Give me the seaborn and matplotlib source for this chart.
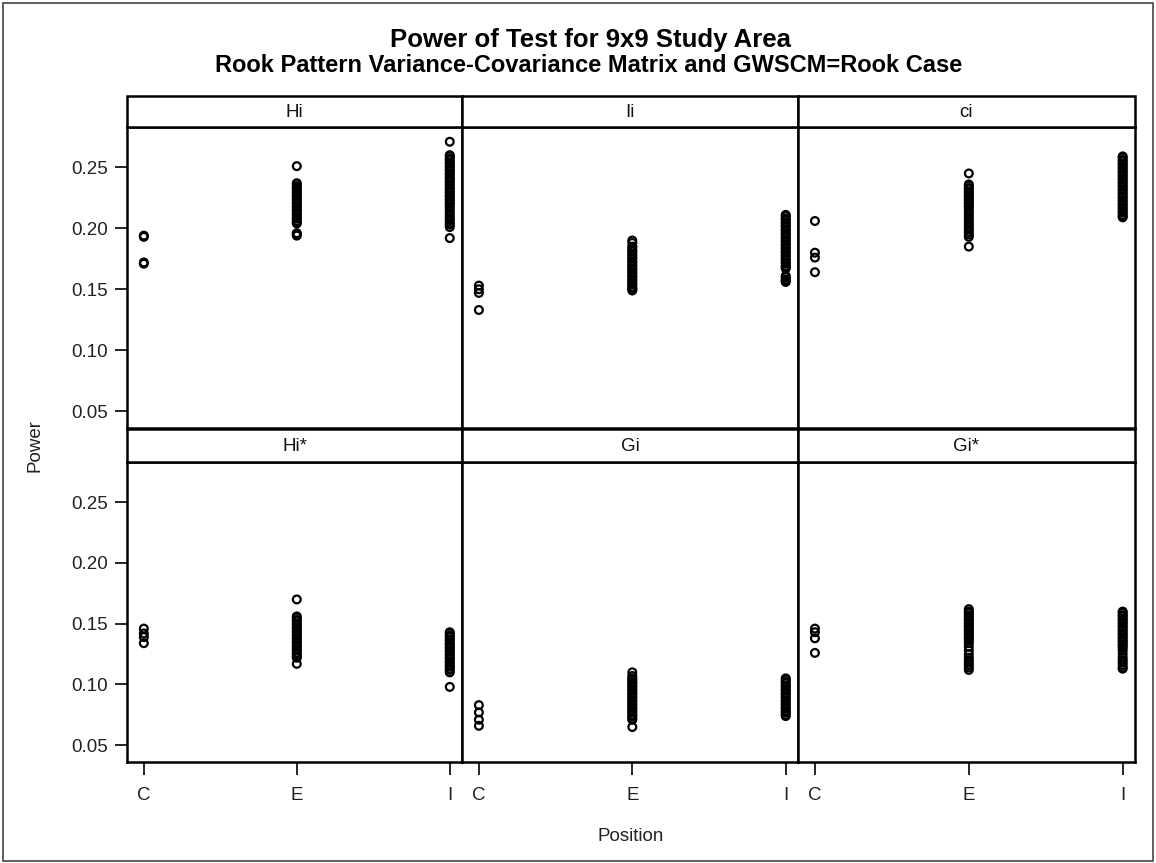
import numpy as np
import pandas as pd
import matplotlib
matplotlib.use("Agg")
import matplotlib.pyplot as plt
from matplotlib.patches import Rectangle
import seaborn as sns

# ---------------- data ----------------
statistics = ["Hi", "Ii", "ci", "Hi*", "Gi", "Gi*"]
positions = ["C", "E", "I"]

hi_C = [0.194, 0.193, 0.172, 0.171]
hi_E = [0.251, 0.237, 0.236, 0.234, 0.233, 0.232, 0.230, 0.229, 0.227, 0.226,
        0.224, 0.223, 0.221, 0.220, 0.218, 0.217, 0.215, 0.214, 0.212, 0.211,
        0.209, 0.208, 0.206, 0.205, 0.204, 0.196, 0.195, 0.194]
hi_I = [0.271, 0.260, 0.259, 0.257, 0.256, 0.254, 0.253, 0.251, 0.250, 0.248,
        0.247, 0.245, 0.244, 0.242, 0.241, 0.239, 0.238, 0.236, 0.235, 0.233,
        0.232, 0.230, 0.229, 0.227, 0.226, 0.224, 0.223, 0.221, 0.220, 0.218,
        0.216, 0.214, 0.212, 0.210, 0.208, 0.206, 0.204, 0.203, 0.201, 0.192]

ii_C = [0.153, 0.150, 0.147, 0.133]
ii_E = [0.190, 0.188, 0.185, 0.184, 0.182, 0.181, 0.179, 0.178, 0.176, 0.175,
        0.173, 0.172, 0.170, 0.169, 0.167, 0.166, 0.164, 0.163, 0.161, 0.160,
        0.158, 0.157, 0.155, 0.154, 0.152, 0.151, 0.150, 0.149]
ii_I = [0.211, 0.210, 0.208, 0.207, 0.205, 0.204, 0.202, 0.201, 0.199, 0.198,
        0.196, 0.195, 0.193, 0.192, 0.190, 0.189, 0.187, 0.186, 0.184, 0.183,
        0.181, 0.180, 0.178, 0.177, 0.175, 0.174, 0.172, 0.171, 0.169, 0.168,
        0.167, 0.161, 0.160, 0.158, 0.157, 0.156]

ci_C = [0.206, 0.180, 0.176, 0.164]
ci_E = [0.245, 0.236, 0.235, 0.233, 0.232, 0.230, 0.229, 0.227, 0.226, 0.224,
        0.223, 0.221, 0.220, 0.218, 0.217, 0.215, 0.213, 0.211, 0.209, 0.207,
        0.205, 0.203, 0.201, 0.199, 0.197, 0.195, 0.193, 0.185]
ci_I = [0.259, 0.258, 0.256, 0.255, 0.253, 0.252, 0.250, 0.249, 0.247, 0.246,
        0.244, 0.243, 0.241, 0.240, 0.238, 0.237, 0.235, 0.234, 0.232, 0.231,
        0.229, 0.228, 0.226, 0.225, 0.223, 0.222, 0.220, 0.219, 0.217, 0.216,
        0.214, 0.213, 0.211, 0.210, 0.209]

his_C = [0.146, 0.142, 0.139, 0.134]
his_E = [0.170, 0.156, 0.155, 0.153, 0.152, 0.150, 0.149, 0.147, 0.146, 0.144,
         0.143, 0.141, 0.140, 0.138, 0.137, 0.135, 0.134, 0.132, 0.131, 0.129,
         0.128, 0.126, 0.125, 0.123, 0.122, 0.117]
his_I = [0.143, 0.142, 0.140, 0.139, 0.137, 0.136, 0.134, 0.133, 0.131, 0.130,
         0.128, 0.127, 0.125, 0.124, 0.122, 0.121, 0.119, 0.118, 0.116, 0.115,
         0.113, 0.112, 0.110, 0.098]

gi_C = [0.083, 0.077, 0.071, 0.066]
gi_E = [0.110, 0.107, 0.105, 0.104, 0.102, 0.101, 0.099, 0.098, 0.096, 0.095,
        0.093, 0.092, 0.090, 0.089, 0.087, 0.086, 0.084, 0.083, 0.081, 0.080,
        0.078, 0.077, 0.075, 0.074, 0.072, 0.071, 0.065]
gi_I = [0.105, 0.104, 0.102, 0.101, 0.099, 0.098, 0.096, 0.095, 0.093, 0.092,
        0.090, 0.089, 0.087, 0.086, 0.084, 0.083, 0.081, 0.080, 0.078, 0.077,
        0.075, 0.074]

gis_C = [0.146, 0.143, 0.138, 0.126]
gis_E = [0.162, 0.160, 0.159, 0.157, 0.156, 0.154, 0.153, 0.151, 0.150, 0.148,
         0.147, 0.145, 0.144, 0.142, 0.141, 0.139, 0.138, 0.136, 0.134, 0.131,
         0.128, 0.125, 0.122, 0.120, 0.118, 0.116, 0.114, 0.112]
gis_I = [0.160, 0.159, 0.157, 0.156, 0.154, 0.153, 0.151, 0.150, 0.148, 0.147,
         0.145, 0.144, 0.142, 0.141, 0.139, 0.138, 0.136, 0.135, 0.133, 0.132,
         0.130, 0.128, 0.125, 0.122, 0.120, 0.118, 0.116, 0.114, 0.113]

y_ticks = [0.05, 0.10, 0.15, 0.20, 0.25]
y_tick_labels = ["0.05", "0.10", "0.15", "0.20", "0.25"]

title = "Power of Test for 9x9 Study Area"
subtitle = "Rook Pattern Variance-Covariance Matrix and GWSCM=Rook Case"

groups = {
    "Hi": (hi_C, hi_E, hi_I),
    "Ii": (ii_C, ii_E, ii_I),
    "ci": (ci_C, ci_E, ci_I),
    "Hi*": (his_C, his_E, his_I),
    "Gi": (gi_C, gi_E, gi_I),
    "Gi*": (gis_C, gis_E, gis_I),
}
rows = []
for stat in statistics:
    for pos, vals in zip(positions, groups[stat]):
        for v in vals:
            rows.append({"Statistic": stat, "Position": pos, "Power": v})
df = pd.DataFrame(rows)

# ---------------- plot ----------------
sns.set_theme(style="white")
plt.rcParams["font.family"] = ["Liberation Sans", "DejaVu Sans"]

W, H = 1156, 863
g = sns.FacetGrid(df, col="Statistic", col_wrap=3, col_order=statistics,
                  sharex=True, sharey=True, height=3, aspect=1)
g.map_dataframe(sns.stripplot, x="Position", y="Power", order=positions,
                jitter=False, color="black", size=5.6, linewidth=1.6)
fig = g.figure
fig.set_size_inches(W / 100, H / 100)
fig.set_dpi(100)

col_px = [(127, 462), (462, 798), (798, 1135)]
row_px = [(127, 428), (462, 762)]
strip_px = [(96, 127), (429, 462)]

def fx(x):
    return x / W

def fy(y):
    return 1 - y / H

for i, ax in enumerate(g.axes.flat):
    r, c = divmod(i, 3)
    x0, x1 = col_px[c]
    y0, y1 = row_px[r]
    ax.set_position([fx(x0), fy(y1), (x1 - x0) / W, (y1 - y0) / H])
    for coll in ax.collections:
        coll.set_facecolor("none")
        coll.set_edgecolor("black")
        coll.set_linewidth(1.6)
    ax.set_xlim(-0.11, 2.08)
    ax.set_ylim(0.0362, 0.2831)
    ax.set_yticks(y_ticks)
    ax.set_title("")
    ax.set_xlabel("")
    ax.set_ylabel("")
    for sp in ax.spines.values():
        sp.set_visible(True)
        sp.set_color("black")
        sp.set_linewidth(1.8)
    if c == 0:
        ax.set_yticklabels(y_tick_labels)
    if r == 1:
        ax.set_xticks([0, 1, 2])
        ax.set_xticklabels(positions)
    ax.tick_params(axis="both", direction="out", length=9, width=1.2,
                   color="black", labelsize=13.5, labelcolor="#222222")
    ax.tick_params(axis="y", pad=5, left=(c == 0), labelleft=(c == 0))
    ax.tick_params(axis="x", pad=9, bottom=(r == 1), labelbottom=(r == 1))
    # strip header
    sy0, sy1 = strip_px[r]
    fig.patches.append(Rectangle((fx(x0), fy(sy1)), (x1 - x0) / W, (sy1 - sy0) / H,
                                 transform=fig.transFigure, facecolor="white",
                                 edgecolor="black", linewidth=1.8, zorder=3))
    fig.text(fx((x0 + x1) / 2), fy((sy0 + sy1) / 2 + 1), statistics[i],
             ha="center", va="center", fontsize=13.5, color="#111111", zorder=4)

fig.text(fx(590), fy(40), title, ha="center", va="center",
         fontsize=18.5, fontweight="bold", color="black")
fig.text(fx(589), fy(65), subtitle, ha="center", va="center",
         fontsize=17, fontweight="bold", color="black")
fig.text(fx(631), fy(836), "Position", ha="center", va="center",
         fontsize=13.5, color="#222222")
fig.text(fx(35), fy(445), "Power", ha="center", va="center",
         rotation=90, fontsize=13.5, color="#222222")

# outer frame
fig.patches.append(Rectangle((fx(3), fy(861)), (1153 - 3) / W, (861 - 3) / H,
                             transform=fig.transFigure, fill=False,
                             edgecolor="#444444", linewidth=1.2, zorder=5))

fig.savefig("out.png", dpi=100, facecolor="white")
